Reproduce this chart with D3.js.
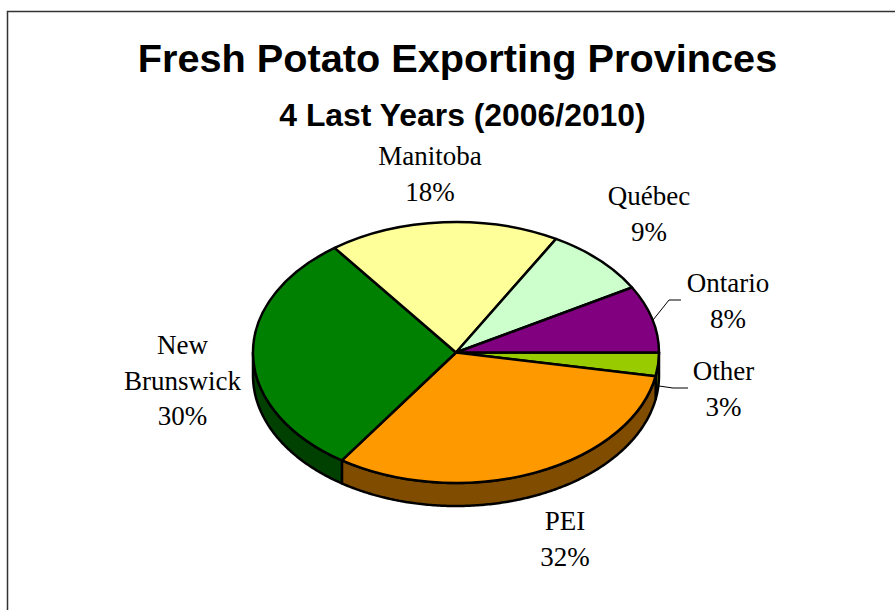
<!DOCTYPE html>
<html>
<head>
<meta charset="utf-8">
<script src="https://cdn.jsdelivr.net/npm/d3@7"></script>
<style>
html,body{margin:0;padding:0;background:#fff;overflow:hidden}
svg{display:block}
</style>
</head>
<body>
<svg id="chart" width="895" height="610"></svg>
<script>
const categories = ["Other","PEI","New Brunswick","Manitoba","Québec","Ontario"];
const values = [2.9,31.6,30.3,18.4,8.5,8.3];
const topColors = ["#99cc00","#ff9900","#008000","#ffff99","#ccffcc","#800080"];
const sideColors = ["#4d6600","#804d00","#004000","#808050","#668066","#400040"];
const labelLines = [["Other"],["PEI"],["New","Brunswick"],["Manitoba"],["Québec"],["Ontario"]];
const labelAnchors = [[723.5,380],[565,530],[182.5,354],[430,165],[649,205],[728,292]];
const leaderLines = [[[659,386],[673,388],[688,388]],null,null,null,null,[[653,320],[669,300],[681,300]]];

const cx=456, cy=352.5, rx=203, ry=130.5, depth=23;
const svg=d3.select("#chart");

svg.append("path").attr("d","M7.5,610V11.5H895").attr("fill","none").attr("stroke","#333").attr("stroke-width",1.5);

svg.append("text").attr("x",457.5).attr("y",72).attr("text-anchor","middle")
  .attr("font-family","'Liberation Sans',Arial,sans-serif").attr("font-weight","bold").attr("font-size",39.7)
  .text("Fresh Potato Exporting Provinces");
svg.append("text").attr("x",462.5).attr("y",126).attr("text-anchor","middle")
  .attr("font-family","'Liberation Sans',Arial,sans-serif").attr("font-weight","bold").attr("font-size",31.9)
  .text("4 Last Years (2006/2010)");

const pie=d3.pie().sort(null).startAngle(Math.PI/2).endAngle(Math.PI/2+2*Math.PI);
const arcs=pie(values);
const project=a=>[cx+rx*Math.sin(a),cy-ry*Math.cos(a)];
const line=d3.line();

// side walls: only the front half of the rim is visible
const walls=svg.append("g");
arcs.forEach((d,i)=>{
  const a0=Math.max(d.startAngle,Math.PI/2), a1=Math.min(d.endAngle,Math.PI*1.5);
  if(a1<=a0) return;
  const angs=d3.range(a0,a1,0.01).concat([a1]);
  const top=angs.map(project);
  const bottom=top.map(p=>[p[0],p[1]+depth]).reverse();
  walls.append("path").attr("d",line(top.concat(bottom))+"Z")
    .attr("fill",sideColors[i]).attr("stroke","#000").attr("stroke-width",2.5).attr("stroke-linejoin","round");
});

// top face
const arc=d3.arc().innerRadius(0).outerRadius(rx);
const face=svg.append("g").attr("transform",`translate(${cx},${cy}) scale(1,${ry/rx})`);
face.selectAll("path").data(arcs).join("path")
  .attr("d",arc).attr("fill",(d,i)=>topColors[i])
  .attr("stroke","#000").attr("stroke-width",2.5).attr("vector-effect","non-scaling-stroke").attr("stroke-linejoin","round");

// leaders
leaderLines.forEach(l=>{ if(l) svg.append("path").attr("d",line(l)).attr("fill","none").attr("stroke","#000").attr("stroke-width",1); });

// labels
const lineGap=35.7;
labelLines.forEach((lines,i)=>{
  const t=svg.append("text").attr("text-anchor","middle")
    .attr("font-family","'Liberation Serif','Times New Roman',serif").attr("font-size",27).attr("fill","#000");
  lines.concat([Math.round(values[i])+"%"]).forEach((s,j)=>t.append("tspan").attr("x",labelAnchors[i][0]).attr("y",labelAnchors[i][1]+j*lineGap).text(s));
});
</script>
</body>
</html>
